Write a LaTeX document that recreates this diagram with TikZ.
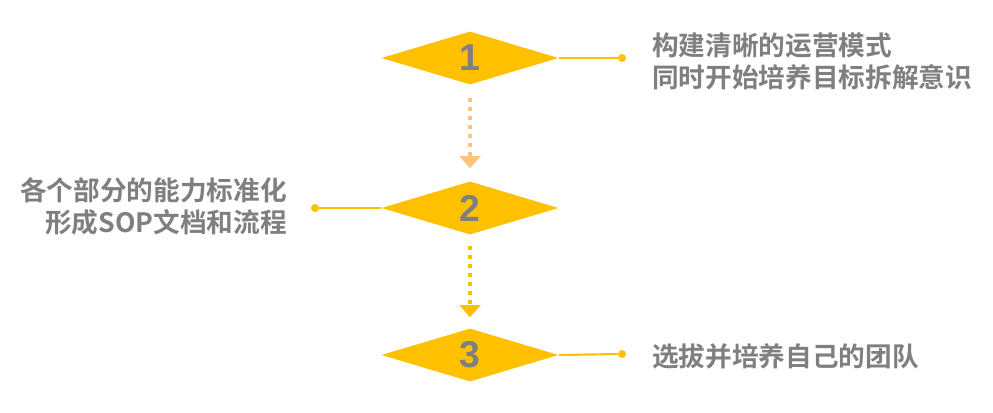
\documentclass[tikz,border=0pt]{standalone}
\usepackage{fontspec}
\usetikzlibrary{shapes.geometric, arrows.meta}
\newfontfamily\cjk{Noto Sans CJK SC}[BoldFont={Noto Sans CJK SC Bold}]
\newfontfamily\numfont{Liberation Sans}
\definecolor{gold}{HTML}{FFC000}
\definecolor{lightgold}{HTML}{FFC47A}
\definecolor{txtgray}{HTML}{7F7F7F}
\tikzset{
  stepdiamond/.style={diamond, fill=gold, aspect=3.34, inner sep=0pt,
    minimum width=132.75pt, minimum height=39.75pt,
    text=txtgray, font=\numfont\bfseries\fontsize{28}{28}\selectfont},
  desctext/.style={text=txtgray, inner sep=0pt,
    font=\cjk\bfseries\fontsize{20}{24}\selectfont},
  enddot/.style={circle, fill=gold, inner sep=0pt, minimum size=6pt},
  linkline/.style={gold, line width=1.6pt},
  flowarrow/.style={line width=3pt, dash pattern=on 3pt off 3.75pt,
    -{Triangle[width=15.5pt,length=9pt]}}
}
\begin{document}
\begin{tikzpicture}[x=0.75pt, y=-0.75pt]
  \useasboundingbox (0,0) rectangle (993,413);
  % steps
  \node[stepdiamond] (step1) at (470,58) {1};
  \node[stepdiamond] (step2) at (470,208) {2};
  \node[stepdiamond] (step3) at (470,355) {3};
  % dots at the ends of the links
  \node[enddot] (dot1) at (622,58) {};
  \node[enddot] (dot2) at (315,208) {};
  \node[enddot] (dot3) at (622,354) {};
  \draw[linkline] (step1.east) -- (dot1);
  \draw[linkline] (step2.west) -- (dot2);
  \draw[linkline] (step3.east) -- (dot3);
  % texts
  \node[desctext, anchor=west, align=left] (desc1) at (652,61)
    {构建清晰的运营模式\\同时开始培养目标拆解意识};
  \node[desctext, anchor=east, align=right] (desc2) at (287,206)
    {各个部分的能力标准化\\形成SOP文档和流程};
  \node[desctext, anchor=west] (desc3) at (652,356) {选拔并培养自己的团队};
  % arrows between the steps
  \draw[flowarrow, lightgold, shorten <=9.75pt, shorten >=9.75pt]
    (step1.south) -- (step2.north);
  \draw[flowarrow, gold, shorten <=8.25pt, shorten >=8.25pt]
    (step2.south) -- (step3.north);
\end{tikzpicture}
\end{document}
